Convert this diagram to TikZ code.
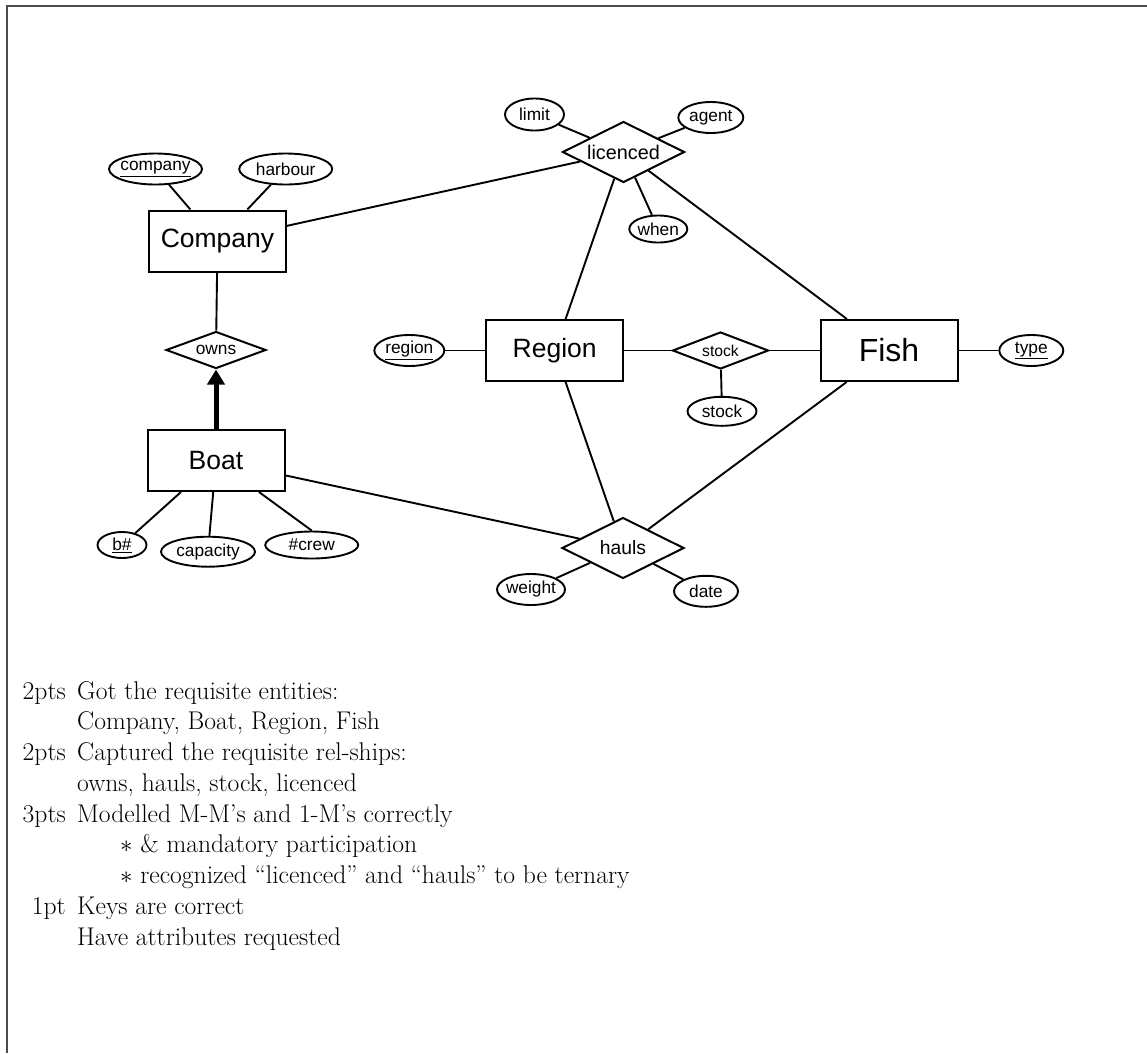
\documentclass[tikz,border=0pt]{standalone}
\usepackage{fontspec}
\newfontfamily\erfont{Liberation Sans}
\usetikzlibrary{shapes.geometric,arrows.meta}
\newcommand\keyu[1]{\underline{#1}}
\begin{document}
\begin{tikzpicture}[x=1pt,y=-1pt,
  ent/.style={draw, line width=2pt, rectangle, minimum width=137pt, minimum height=61pt, inner sep=0pt, font=\erfont\fontsize{26.5}{30}\selectfont},
  rel/.style={draw, line width=2pt, diamond, inner sep=0pt},
  attr/.style={draw, line width=1.9pt, ellipse, inner sep=0pt},
  atxt/.style={font=\erfont\fontsize{17.3}{20}\selectfont, inner sep=0pt},
  conn/.style={line width=1.9pt},
  txt/.style={font=\fontsize{25.6}{30.75}\selectfont, inner sep=0pt},
]
\useasboundingbox (0,0) rectangle (1147,1053);
\draw[line width=2pt, black!70] (6.5,1053) -- (6.5,5.5) -- (1147,5.5);

% entities
\node[ent] (company) at (217.5,241) {Company};
\node[ent] (boat) at (216,460.5) {Boat};
\node[ent] (region) at (554.7,350.5) {Region};
\node[ent, font=\erfont\fontsize{32}{36}\selectfont] (fish) at (889,350.5) {Fish};

% relationships
\node[rel, minimum width=122pt, minimum height=61pt,
  label={[atxt, font=\erfont\fontsize{19.8}{22}\selectfont]center:licenced}] (licenced) at (623.5,152) {};
\node[rel, minimum width=122pt, minimum height=61pt,
  label={[atxt, font=\erfont\fontsize{19.3}{22}\selectfont]center:hauls}] (hauls) at (623,548) {};
\node[rel, minimum width=100pt, minimum height=37pt,
  label={[atxt]center:owns}] (owns) at (216,350) {};
\node[rel, minimum width=96pt, minimum height=37pt,
  label={[atxt, font=\erfont\fontsize{15.7}{18}\selectfont]center:stock}] (stockr) at (720.5,350.5) {};

% attributes
\node[attr, minimum width=93pt, minimum height=31pt, label={[atxt]center:\keyu{company}}] (acompany) at (155.5,169) {};
\node[attr, minimum width=93pt, minimum height=31pt, label={[atxt]center:harbour}] (aharbour) at (285.7,169) {};
\node[attr, minimum width=59pt, minimum height=32pt, label={[atxt]center:limit}] (alimit) at (534.5,114.5) {};
\node[attr, minimum width=65pt, minimum height=31pt, label={[atxt]center:agent}] (aagent) at (710.8,117.5) {};
\node[attr, minimum width=58pt, minimum height=27pt, label={[atxt]center:when}] (awhen) at (658.3,229) {};
\node[attr, minimum width=70pt, minimum height=31pt, label={[atxt]center:\keyu{region}}] (aregion) at (409.3,350.5) {};
\node[attr, minimum width=69pt, minimum height=29pt, label={[atxt]center:stock}] (astock) at (722,411.3) {};
\node[attr, minimum width=64pt, minimum height=31pt, label={[atxt]center:\keyu{type}}] (atype) at (1031.3,350.5) {};
\node[attr, minimum width=68pt, minimum height=31pt, label={[atxt]center:weight}] (aweight) at (531,589.5) {};
\node[attr, minimum width=64pt, minimum height=31pt, label={[atxt]center:date}] (adate) at (706,591.3) {};
\node[attr, minimum width=49pt, minimum height=26pt, label={[atxt]center:\keyu{b\#}}] (abno) at (122,545) {};
\node[attr, minimum width=94pt, minimum height=30pt, label={[atxt]center:capacity}] (acapacity) at (208,551.7) {};
\node[attr, minimum width=93pt, minimum height=27pt, label={[atxt]center:\#crew}] (acrew) at (311.7,545) {};

% relationship connectors
\draw[conn] (company) -- (licenced);
\draw[conn] (company) -- (owns);
\draw[conn] (licenced) -- (region);
\draw[conn] (licenced) -- (fish);
\draw[conn] (region) -- (stockr);
\draw[conn] (stockr) -- (fish);
\draw[conn] (region) -- (hauls);
\draw[conn] (fish) -- (hauls);
\draw[conn] (boat) -- (hauls);
\draw[line width=5pt, -{Triangle[length=15pt,width=17pt]}] (boat) -- (owns);

% attribute connectors
\draw[conn] (acompany) -- (company);
\draw[conn] (aharbour) -- (company);
\draw[conn] (alimit) -- (licenced);
\draw[conn] (aagent) -- (licenced);
\draw[conn] (awhen) -- (licenced);
\draw[conn] (aregion) -- (region);
\draw[conn] (astock) -- (stockr);
\draw[conn] (atype) -- (fish);
\draw[conn] (aweight) -- (hauls);
\draw[conn] (adate) -- (hauls);
\draw[conn] (abno) -- (boat);
\draw[conn] (acapacity) -- (boat);
\draw[conn] (acrew.north) -- (boat);

% grading text
\node[txt, anchor=base east] (p1) at (66,699) {2pts};
\node[txt, anchor=base west] (t1) at (77,699) {Got the requisite entities:};
\node[txt, anchor=base west] (t2) at (77,729.75) {Company, Boat, Region, Fish};
\node[txt, anchor=base east] (p2) at (66,760.5) {2pts};
\node[txt, anchor=base west] (t3) at (77,760.5) {Captured the requisite rel-ships:};
\node[txt, anchor=base west] (t4) at (77,791.25) {owns, hauls, stock, licenced};
\node[txt, anchor=base east] (p3) at (66,822) {3pts};
\node[txt, anchor=base west] (t5) at (77,822) {Modelled M-M's and 1-M's correctly};
\node[txt, anchor=base west] (t6) at (120,852.75) {$\ast$ \& mandatory participation};
\node[txt, anchor=base west] (t7) at (120,883.5) {$\ast$ recognized ``licenced'' and ``hauls'' to be ternary};
\node[txt, anchor=base east] (p4) at (66,914.25) {1pt};
\node[txt, anchor=base west] (t8) at (77,914.25) {Keys are correct};
\node[txt, anchor=base west] (t9) at (77,945) {Have attributes requested};
\end{tikzpicture}
\end{document}
